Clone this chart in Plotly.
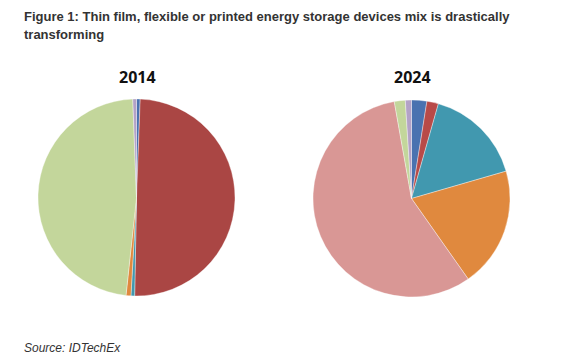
import plotly.graph_objects as go

W, H = 569, 364
OFF = 8  # page body margin offset

# 2014 mix (clockwise from 12 o'clock)
labels_2014 = ["Type A", "Type B", "Type C", "Type D", "Type E", "Type F"]
values_2014 = [0.6, 49.7, 0.6, 0.8, 47.7, 0.6]
colors_2014 = ["#4A72B0", "#AA4644", "#4198AF", "#E0893E", "#C3D69B", "#B3A2C7"]

# 2024 mix (clockwise from 12 o'clock)
labels_2024 = ["Type A", "Type B", "Type C", "Type D", "Type G", "Type E", "Type F"]
values_2024 = [2.5, 1.9, 16.1, 19.7, 56.9, 1.8, 1.0]
colors_2024 = ["#4A72B0", "#B84A48", "#4198AF", "#E0893E", "#D99795", "#C3D69B", "#B3A2C7"]

years = ["2014", "2024"]

def px_x(x):
    return (x - OFF) / W

def px_y(y):
    return 1 - (y - OFF) / H

fig = go.Figure()
fig.add_trace(go.Pie(
    labels=labels_2014, values=values_2014, sort=False, direction="clockwise",
    rotation=0, textinfo="none", hole=0,
    marker=dict(colors=colors_2014, line=dict(color="rgba(255,255,255,0.6)", width=0.6)),
    domain=dict(x=[px_x(38), px_x(235)], y=[px_y(296), px_y(99)]),
    showlegend=False, name=years[0],
))
fig.add_trace(go.Pie(
    labels=labels_2024, values=values_2024, sort=False, direction="clockwise",
    rotation=0, textinfo="none", hole=0,
    marker=dict(colors=colors_2024, line=dict(color="rgba(255,255,255,0.6)", width=0.6)),
    domain=dict(x=[px_x(313), px_x(510)], y=[px_y(297), px_y(100)]),
    showlegend=False, name=years[1],
))

ann = []
ann.append(dict(text="<b>Figure 1: Thin film, flexible or printed energy storage devices mix is drastically</b>",
                x=px_x(22), y=px_y(7), xanchor="left", yanchor="top", showarrow=False,
                font=dict(family="Liberation Sans, Arial", size=13, color="#333333")))
ann.append(dict(text="<b>transforming</b>",
                x=px_x(22), y=px_y(25), xanchor="left", yanchor="top", showarrow=False,
                font=dict(family="Liberation Sans, Arial", size=13, color="#333333")))
ann.append(dict(text="<b>" + years[0] + "</b>", x=px_x(137), y=px_y(77), xanchor="center", yanchor="middle",
                showarrow=False, font=dict(family="Open Sans, Lato, sans-serif", size=16, color="#111111")))
ann.append(dict(text="<b>" + years[1] + "</b>", x=px_x(412), y=px_y(77), xanchor="center", yanchor="middle",
                showarrow=False, font=dict(family="Open Sans, Lato, sans-serif", size=16, color="#111111")))
ann.append(dict(text="<i>Source: IDTechEx</i>", x=px_x(22), y=px_y(348), xanchor="left", yanchor="middle",
                showarrow=False, font=dict(family="Liberation Sans, Arial", size=12, color="#333333")))

fig.update_layout(
    width=W, height=H, margin=dict(l=0, r=0, t=0, b=0),
    paper_bgcolor="white", plot_bgcolor="white",
    annotations=ann,
)

fig.write_html("out.html")
